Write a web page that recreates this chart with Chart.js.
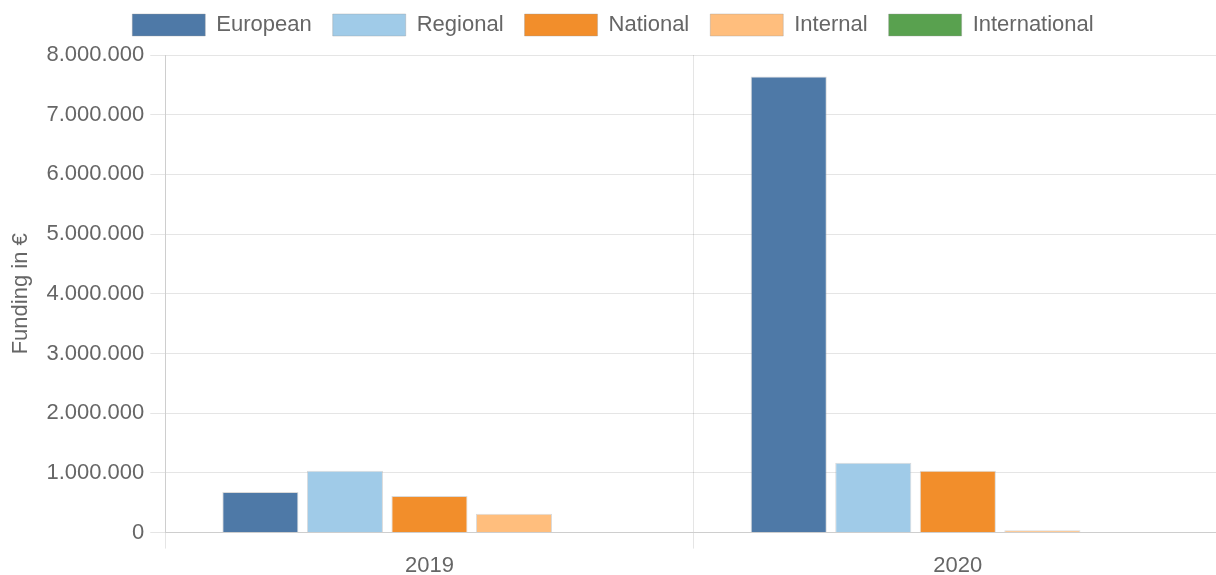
<!DOCTYPE html>
<html>
<head>
<meta charset="utf-8">
<script src="https://cdn.jsdelivr.net/npm/chart.js@4/dist/chart.umd.min.js"></script>
<style>
  html, body { margin: 0; padding: 0; background: #fff; overflow: hidden; }
  #wrap { position: relative; width: 1222px; height: 583px; }
</style>
</head>
<body>
<div id="wrap"><canvas id="chart"></canvas></div>
<script>
const years = ["2019", "2020"]
const european = [680000, 7640000]
const regional = [1035000, 1170000]
const national = [615000, 1035000]
const internal = [315000, 40000]
const international = [0, 8000]

// 8.000.000 style numbers
function fmt(v) {
  return String(Math.round(v)).replace(/\B(?=(\d{3})+(?!\d))/g, ".")
}

function series(label, data, color) {
  return {
    label: label,
    data: data,
    backgroundColor: color,
    borderColor: "rgba(150, 150, 150, 0.35)",
    borderWidth: 1
  }
}

// push the plot down a bit without moving the legend
const legendGap = {
  id: "legendGap",
  beforeInit(chart) {
    const fit = chart.legend.fit
    chart.legend.fit = function () {
      fit.bind(chart.legend)()
      this.height += 9
    }
  }
}

const font = { family: "Liberation Sans", size: 22 }

new Chart(document.getElementById("chart"), {
  type: "bar",
  data: {
    labels: years,
    datasets: [
      series("European", european, "#4e79a7"),
      series("Regional", regional, "#a0cbe8"),
      series("National", national, "#f28e2b"),
      series("Internal", internal, "#ffbe7d"),
      series("International", international, "#59a14f")
    ]
  },
  plugins: [legendGap],
  options: {
    responsive: true,
    maintainAspectRatio: false,
    animation: false,
    layout: { padding: { top: -7, left: 4, right: 0, bottom: 0 } },
    plugins: {
      legend: {
        labels: {
          boxWidth: 73,
          boxHeight: 22,
          padding: 21,
          color: "#666",
          font: font
        }
      },
      tooltip: { enabled: false }
    },
    scales: {
      x: {
        ticks: { color: "#666", font: font, padding: 4 },
        grid: { color: "rgba(0, 0, 0, 0.1)", tickLength: 16 }
      },
      y: {
        min: 0,
        max: 8000000,
        ticks: {
          stepSize: 1000000,
          color: "#666",
          font: font,
          padding: 6,
          callback: (v) => fmt(v)
        },
        grid: { color: "rgba(0, 0, 0, 0.1)", tickLength: 15 },
        title: {
          display: true,
          text: "Funding in €",
          color: "#666",
          font: font,
          padding: { top: 4, bottom: 6 }
        }
      }
    }
  }
})
</script>
</body>
</html>
